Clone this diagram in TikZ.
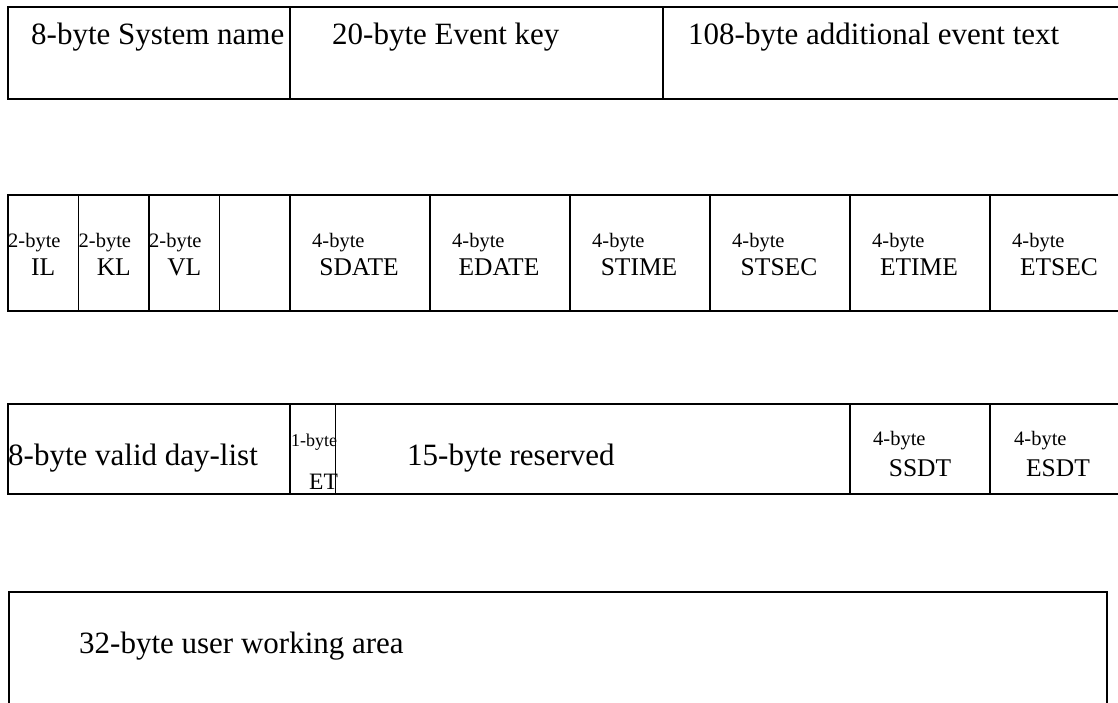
\documentclass[tikz,border=0pt]{standalone}
\usepackage{fontspec}
\setmainfont{Liberation Serif}
\usetikzlibrary{positioning}

\tikzset{
  box/.style={draw=black, line width=1.3pt, inner sep=0pt, outer sep=0pt},
  rowone/.style={box, minimum height=92pt},
  rowtwo/.style={box, minimum height=116pt},
  rowthree/.style={box, minimum height=90pt},
  bigtxt/.style={inner sep=0pt, anchor=base west, font=\fontsize{31}{37}\selectfont},
  fldtxt/.style={inner sep=0pt, anchor=base, font=\fontsize{25.5}{30}\selectfont},
  bytetxt/.style={inner sep=0pt, anchor=base west, font=\fontsize{20.5}{24}\selectfont}
}

\begin{document}
\begin{tikzpicture}[x=1pt, y=-1pt]
    \useasboundingbox (0,0) rectangle (1118,702);
    \clip (0,0) rectangle (1118,702);

    % row 1: name, key, text
    \node [rowone, minimum width=282pt, anchor=north west] (sys) at (8,7) {};
    \node [rowone, minimum width=373pt, right=0pt of sys] (key) {};
    \node [rowone, minimum width=470pt, right=0pt of key] (addtxt) {};
    \node [bigtxt] (systxt) at (31,44) {8-byte System name};
    \node [bigtxt] (keytxt) at (332,44) {20-byte Event key};
    \node [bigtxt] (addtxtlbl) at (688,44) {108-byte additional event text};

    % row 2: lengths and dates
    \foreach \nm [count=\i] in {il, kl, vl, spare} {
        \node [rowtwo, minimum width=70.5pt, anchor=north west] (\nm) at ({8+70.5*(\i-1)},195) {};
    }
    \foreach \nm/\lbl [count=\i] in {il/IL, kl/KL, vl/VL} {
        \node [bytetxt] (\nm b) at ({8+70.5*(\i-1)},247) {2-byte};
        \node [fldtxt] (\nm t) at ({43.25+70.5*(\i-1)},275) {\lbl};
    }
    \foreach \nm/\lbl [count=\i] in {sdate/SDATE, edate/EDATE, stime/STIME,
                                    stsec/STSEC, etime/ETIME, etsec/ETSEC} {
        \node [rowtwo, minimum width=140pt, anchor=north west] (\nm) at ({290+140*(\i-1)},195) {};
        \node [bytetxt] (\nm b) at ({312+140*(\i-1)},247) {4-byte};
        \node [fldtxt] (\nm t) at ({359+140*(\i-1)},275) {\lbl};
    }

    % row 3: day-list, type, reserved, sdt
    \node [rowthree, minimum width=282pt, anchor=north west] (days) at (8,404) {};
    \node [rowthree, minimum width=45.5pt, right=0pt of days] (et) {};
    \node [rowthree, minimum width=514.5pt, right=0pt of et] (rsv) {};
    \node [rowthree, minimum width=140pt, right=0pt of rsv] (ssdt) {};
    \node [rowthree, minimum width=140pt, right=0pt of ssdt] (esdt) {};
    \node [bigtxt] (daystxt) at (8,465) {8-byte valid day-list};
    \node [bytetxt, font=\fontsize{18}{21}\selectfont] (etb) at (291,446) {1-byte};
    \node [bytetxt, font=\fontsize{23.5}{28}\selectfont] (ett) at (309,489) {ET};
    \node [bigtxt] (rsvtxt) at (407,465) {15-byte reserved};
    \node [bytetxt] (ssdtb) at (873,445) {4-byte};
    \node [fldtxt] (ssdtt) at (920,476) {SSDT};
    \node [bytetxt] (esdtb) at (1014,445) {4-byte};
    \node [fldtxt] (esdtt) at (1058,476) {ESDT};

    % row 4: user area
    \node [box, minimum width=1098pt, minimum height=130pt, anchor=north west] (user) at (9,592) {};
    \node [bigtxt] (usertxt) at (79,653) {32-byte user working area};
\end{tikzpicture}
\end{document}
